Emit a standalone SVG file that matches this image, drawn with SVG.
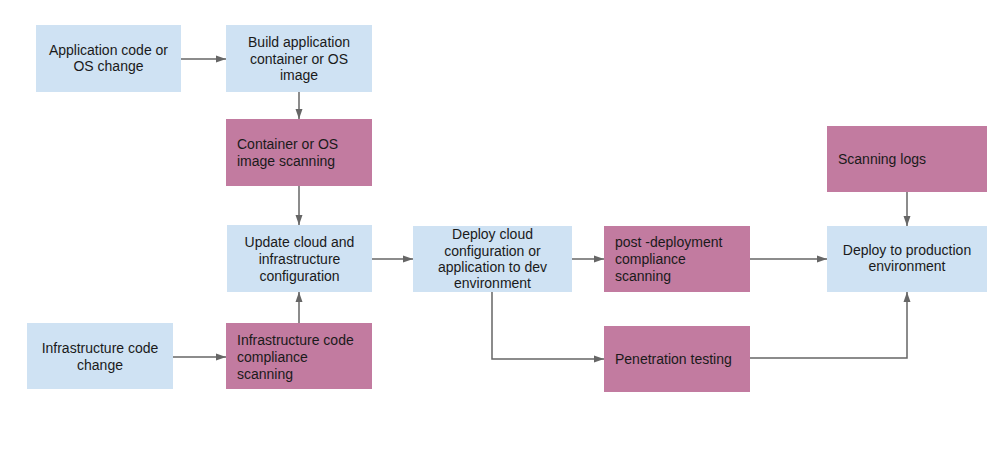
<svg xmlns="http://www.w3.org/2000/svg" width="1004" height="455" viewBox="0 0 1004 455">
<style>
.b{fill:#cfe2f3;}
.p{fill:#c27ba0;}
text{font-family:"Liberation Sans",Arial,sans-serif;font-size:14px;fill:#1a1a1a;}
.c{text-anchor:middle;}
.e{fill:none;stroke:#666666;stroke-width:1.5;}
</style>
<defs>
<marker id="ah" viewBox="0 0 10 10" refX="10" refY="5" markerWidth="10" markerHeight="10" markerUnits="userSpaceOnUse" orient="auto">
<path d="M0,1.5 L10,5 L0,8.5 Z" fill="#666666"/>
</marker>
</defs>
<rect width="1004" height="455" fill="#ffffff"/>
<g id="connectors">
<path class="e" d="M181,59 H226" marker-end="url(#ah)"/>
<path class="e" d="M299,92 V119" marker-end="url(#ah)"/>
<path class="e" d="M299,186 V225" marker-end="url(#ah)"/>
<path class="e" d="M173,357 H226" marker-end="url(#ah)"/>
<path class="e" d="M299,323 V292" marker-end="url(#ah)"/>
<path class="e" d="M372,259 H413" marker-end="url(#ah)"/>
<path class="e" d="M572,259 H604" marker-end="url(#ah)"/>
<path class="e" d="M492,292 V359 H604" marker-end="url(#ah)"/>
<path class="e" d="M750,259 H827" marker-end="url(#ah)"/>
<path class="e" d="M907,192 V226" marker-end="url(#ah)"/>
<path class="e" d="M750,358 H907 V292" marker-end="url(#ah)"/>
</g>
<g id="n1"><rect class="b" x="36" y="25" width="145" height="67"/>
<text class="c" x="108.5" y="55">Application code or</text><text class="c" x="108.5" y="71">OS change</text></g>
<g id="n2"><rect class="b" x="226" y="25" width="146" height="67"/>
<text class="c" x="299" y="47">Build application</text><text class="c" x="299" y="63.5">container or OS</text><text class="c" x="299" y="80">image</text></g>
<g id="n3"><rect class="p" x="226" y="119" width="146" height="67"/>
<text x="237" y="149">Container or OS</text><text x="237" y="166">image scanning</text></g>
<g id="n4"><rect class="b" x="227" y="225" width="145" height="67"/>
<text class="c" x="299.5" y="247">Update cloud and</text><text class="c" x="299.5" y="264">infrastructure</text><text class="c" x="299.5" y="281">configuration</text></g>
<g id="n5"><rect class="b" x="27" y="323" width="146" height="66"/>
<text class="c" x="100" y="353">Infrastructure code</text><text class="c" x="100" y="370">change</text></g>
<g id="n6"><rect class="p" x="226" y="323" width="146" height="66"/>
<text x="237" y="345">Infrastructure code</text><text x="237" y="362">compliance</text><text x="237" y="379">scanning</text></g>
<g id="n7"><rect class="b" x="413" y="226" width="159" height="66"/>
<text class="c" x="492.5" y="239">Deploy cloud</text><text class="c" x="492.5" y="256">configuration or</text><text class="c" x="492.5" y="272">application to dev</text><text class="c" x="492.5" y="288">environment</text></g>
<g id="n8"><rect class="p" x="604" y="226" width="146" height="66"/>
<text x="615" y="247">post -deployment</text><text x="615" y="264">compliance</text><text x="615" y="281">scanning</text></g>
<g id="n9"><rect class="p" x="604" y="326" width="146" height="66"/>
<text x="615" y="364">Penetration testing</text></g>
<g id="n10"><rect class="p" x="827" y="126" width="160" height="66"/>
<text x="838" y="164">Scanning logs</text></g>
<g id="n11"><rect class="b" x="827" y="226" width="160" height="66"/>
<text class="c" x="907" y="255">Deploy to production</text><text class="c" x="907" y="271">environment</text></g>
</svg>
